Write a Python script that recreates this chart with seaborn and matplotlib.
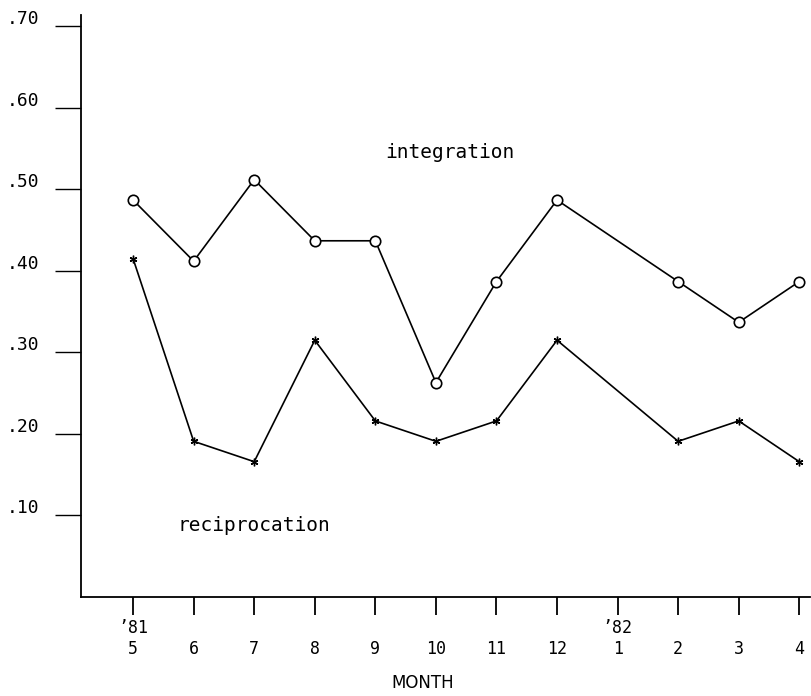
import matplotlib
matplotlib.use("Agg")
import matplotlib.pyplot as plt
import matplotlib.transforms as mtransforms
import seaborn as sns
import numpy as np
import pandas as pd

months = ["5", "6", "7", "8", "9", "10", "11", "12", "1", "2", "3", "4"]
year_marks = {"5": "\u201981", "1": "\u201982"}
integration = [0.487, 0.412, 0.512, 0.437, 0.437, 0.263, 0.387, 0.487, np.nan, 0.387, 0.337, 0.387]
reciprocation = [0.415, 0.191, 0.166, 0.315, 0.216, 0.191, 0.216, 0.315, np.nan, 0.191, 0.216, 0.166]
yticks = [0.10, 0.20, 0.30, 0.40, 0.50, 0.60, 0.70]
ytick_labels = [".10", ".20", ".30", ".40", ".50", ".60", ".70"]

sns.set_theme(style="white")
plt.rcParams["font.family"] = ["DejaVu Sans Mono", "DejaVu Sans"]
plt.rcParams["text.color"] = "black"
plt.rcParams["xtick.color"] = "black"
plt.rcParams["ytick.color"] = "black"
plt.rcParams["axes.labelcolor"] = "black"

pos = np.arange(len(months))
df = pd.concat([
    pd.DataFrame({"pos": pos, "value": integration, "series": "integration"}),
    pd.DataFrame({"pos": pos, "value": reciprocation, "series": "reciprocation"}),
]).dropna()

fig = plt.figure(figsize=(8.11, 6.96), dpi=100)
ax = fig.add_axes([81 / 811, 1 - 597 / 696, 1 - 81 / 811 - 0.001, (597 - 15) / 696])

sns.lineplot(data=df[df.series == "integration"], x="pos", y="value", ax=ax,
             color="black", lw=1.2, marker="o", markersize=7.5,
             markerfacecolor="white", markeredgecolor="black", markeredgewidth=1.2)
sns.lineplot(data=df[df.series == "reciprocation"], x="pos", y="value", ax=ax,
             color="black", lw=1.2, marker=(6, 2, 0), markersize=5.5,
             markeredgecolor="black", markeredgewidth=1.0)

ax.set_xlim(-0.86, 11.18)
ax.set_ylim(0, 0.714)
ax.set_yticks(yticks)
ax.set_yticklabels(ytick_labels, fontsize=13)
ax.set_xticks(pos)
ax.set_xticklabels([f"{year_marks.get(m, '')}\n{m}" for m in months], fontsize=12, linespacing=1.2)
ax.tick_params(axis="y", direction="out", length=19, width=1.0, color="black", pad=11)
ax.tick_params(axis="x", direction="out", length=13, width=1.3, color="black", pad=3)
ax.tick_params(left=True, bottom=True)

offset = mtransforms.ScaledTranslation(0, 9 / 100, fig.dpi_scale_trans)
for lab in ax.get_yticklabels():
    lab.set_transform(lab.get_transform() + offset)

for s in ["top", "right"]:
    ax.spines[s].set_visible(False)
for s in ["left", "bottom"]:
    ax.spines[s].set_color("black")
    ax.spines[s].set_linewidth(1.3)

ax.set_xlabel("MONTH", fontsize=12, family="DejaVu Sans")
ax.xaxis.set_label_coords(0.468, -0.133)
ax.set_ylabel("")

ax.text(4.17, 0.545, "integration", fontsize=14, ha="left", va="center", color="black")
ax.text(0.74, 0.088, "reciprocation", fontsize=14, ha="left", va="center", color="black")

ax.grid(False)
fig.savefig("out.png", dpi=100)
